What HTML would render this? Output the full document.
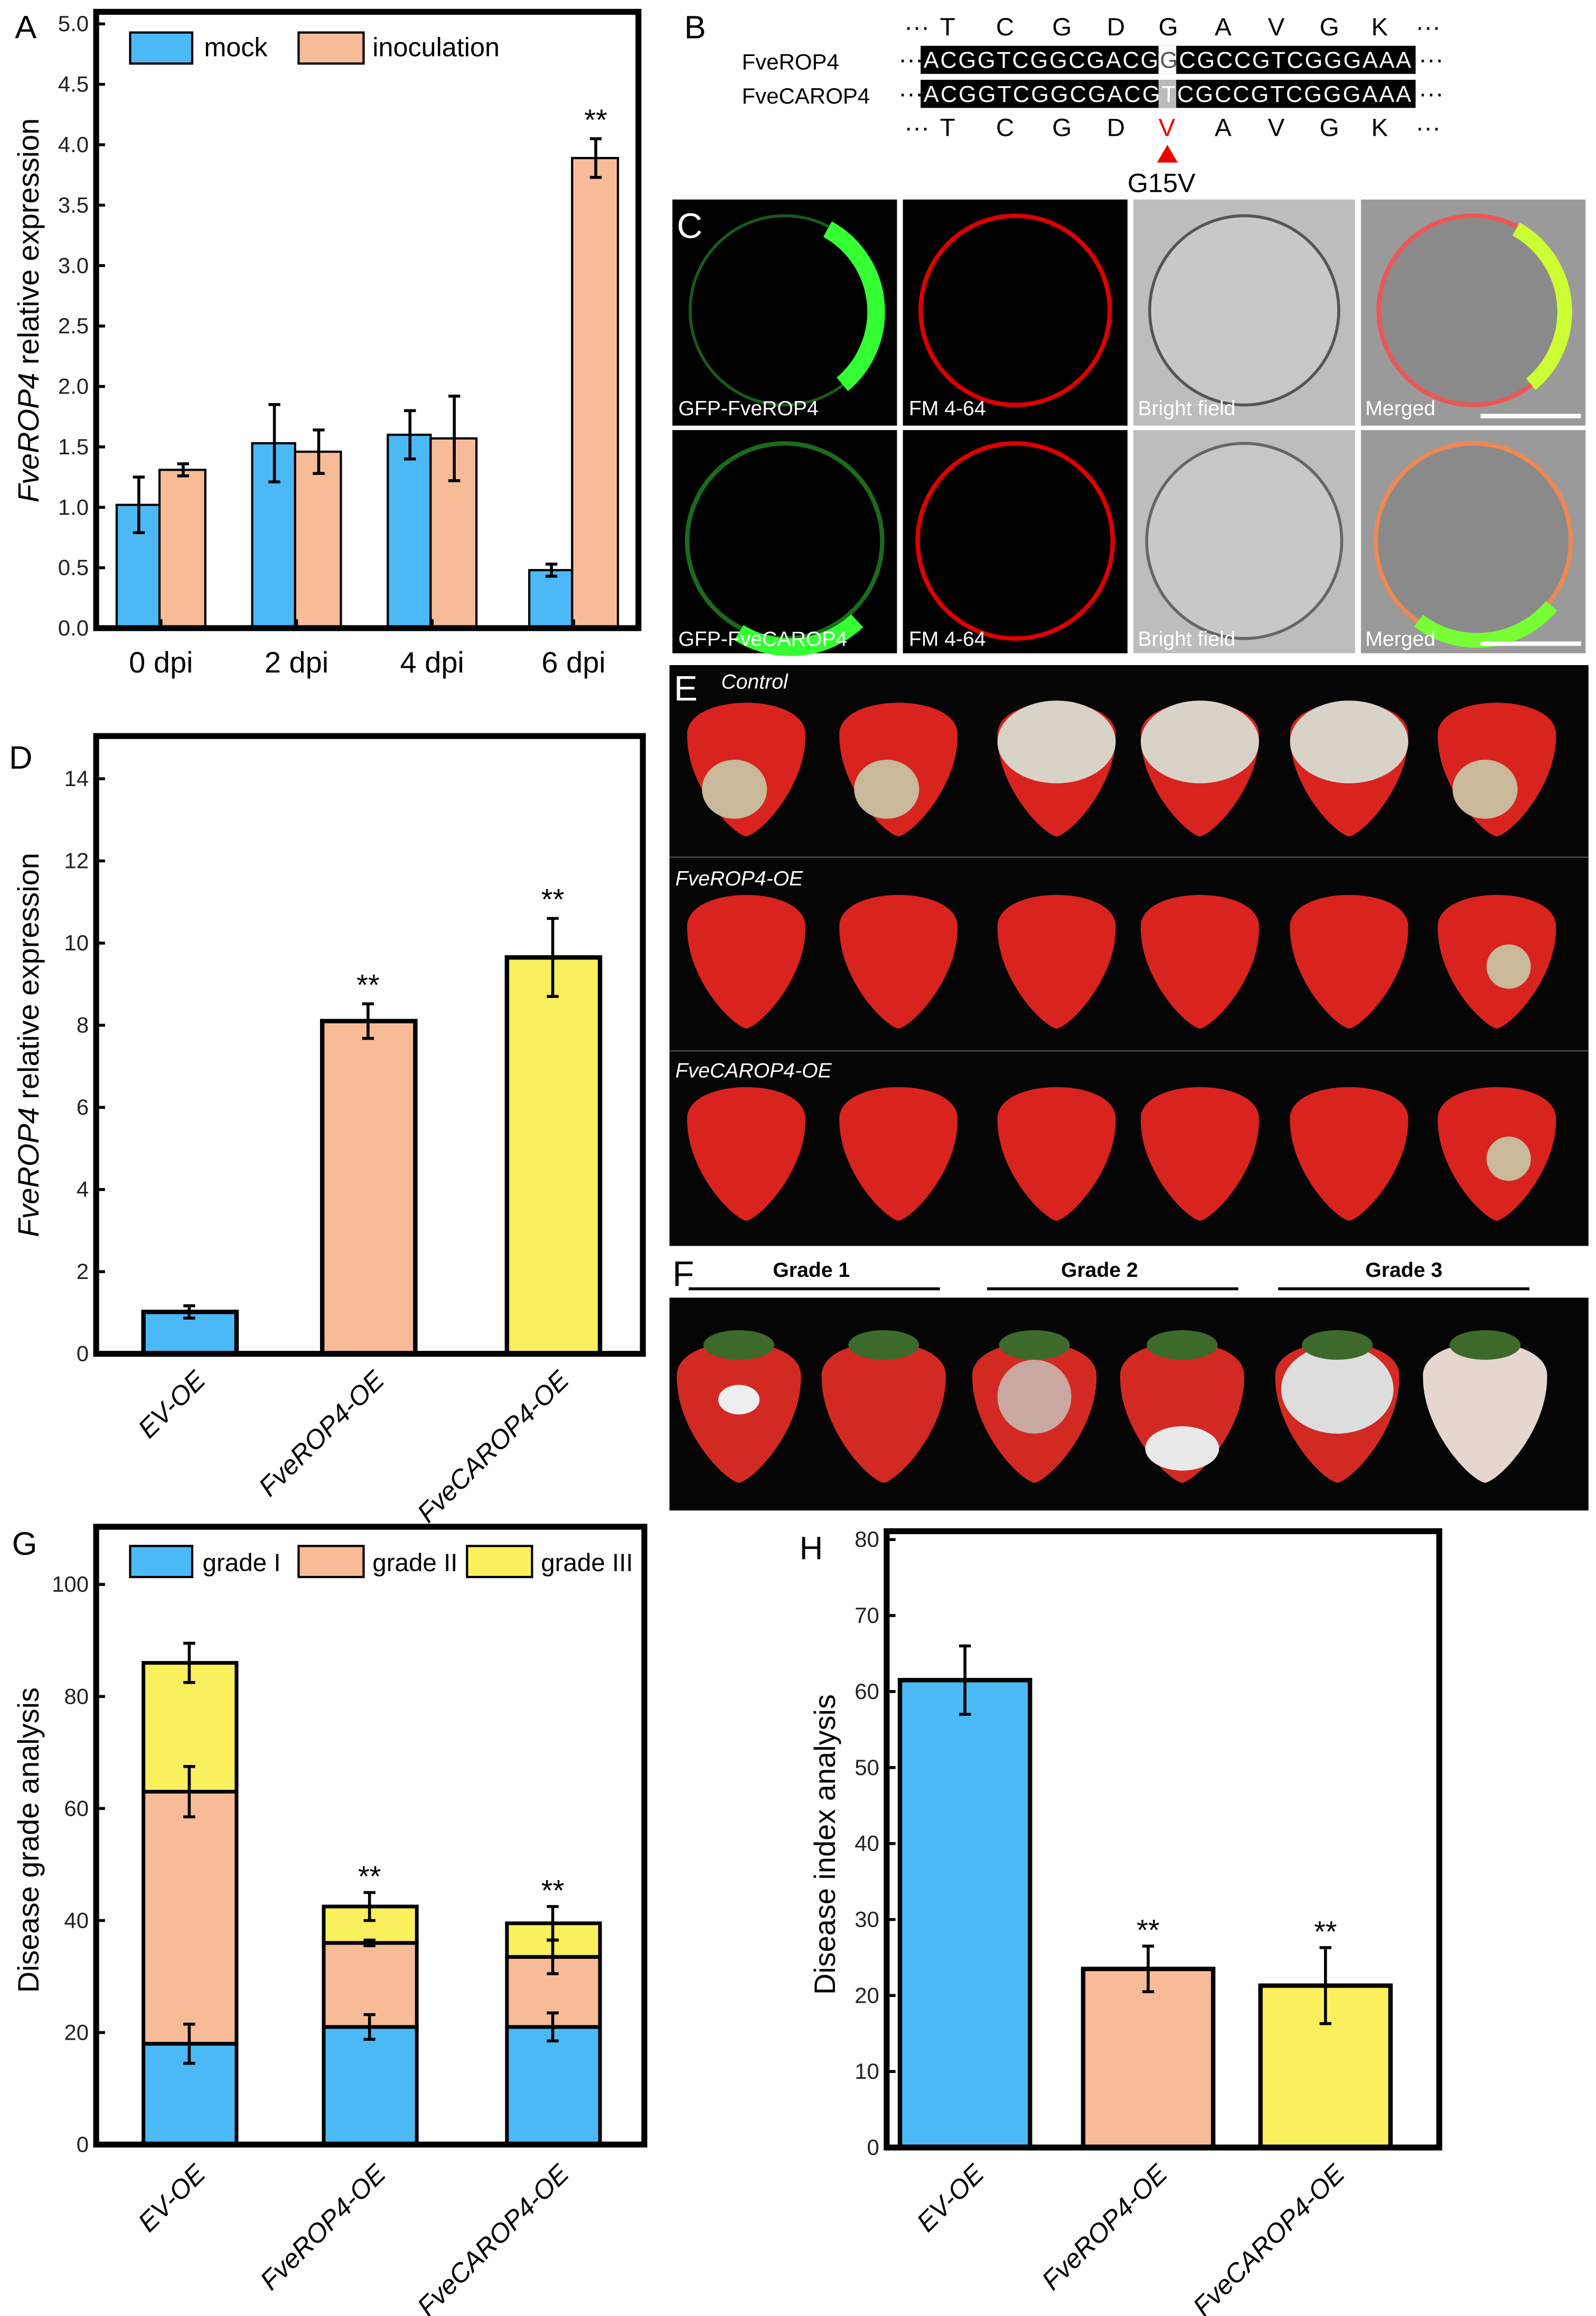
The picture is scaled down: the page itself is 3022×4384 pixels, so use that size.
<!DOCTYPE html>
<html><head><meta charset="utf-8"><style>
html,body{margin:0;padding:0;background:#fff}
svg{display:block}
text{font-family:"Liberation Sans",Arial,sans-serif}
</style></head><body>
<svg id="fig" width="3022" height="4384" viewBox="0 0 1080 1567" xmlns="http://www.w3.org/2000/svg">
<rect width="1080" height="1567" fill="#fff"/>
<!-- Panel B -->
<g font-size="17">
<text x="463" y="26" font-size="22">B</text>
<text x="612" y="24" font-size="17">···</text>
<text x="636" y="24">T</text><text x="674" y="24">C</text><text x="712" y="24">G</text><text x="749" y="24">D</text><text x="784" y="24">G</text><text x="822" y="24">A</text><text x="858" y="24">V</text><text x="893" y="24">G</text><text x="928" y="24">K</text><text x="958" y="24">···</text>
<text x="502" y="47" font-size="15">FveROP4</text>
<text x="502" y="70" font-size="15">FveCAROP4</text>
<rect x="623" y="31" width="335" height="19" fill="#000"/>
<rect x="623" y="54" width="335" height="19" fill="#000"/>
<rect x="784" y="31" width="12" height="19" fill="#fff"/>
<rect x="784" y="54" width="12" height="19" fill="#bbb"/>
<text x="625" y="46" fill="#fff" font-family="Liberation Mono" font-size="15.5" textLength="330">ACGGTCGGCGACGGCGCCGTCGGGAAA</text>
<text x="625" y="69" fill="#fff" font-family="Liberation Mono" font-size="15.5" textLength="330">ACGGTCGGCGACGTCGCCGTCGGGAAA</text>
<text x="785" y="46" fill="#555" font-family="Liberation Mono" font-size="15.5">G</text>
<text x="608" y="46">···</text><text x="608" y="69">···</text><text x="960" y="46">···</text><text x="960" y="69">···</text>
<text x="612" y="92">···</text>
<text x="636" y="92">T</text><text x="674" y="92">C</text><text x="712" y="92">G</text><text x="749" y="92">D</text><text x="784" y="92" fill="#e00">V</text><text x="822" y="92">A</text><text x="858" y="92">V</text><text x="893" y="92">G</text><text x="928" y="92">K</text><text x="958" y="92">···</text>
<polygon points="783,110 797,110 790,98" fill="#e00"/>
<text x="763" y="130" font-size="18">G15V</text>
</g>
<!-- Panel C -->
<g>
<rect x="455" y="135" width="152" height="153" fill="#000"/><rect x="611" y="135" width="152" height="153" fill="#000"/><rect x="767" y="135" width="150" height="153" fill="#bdbdbd"/><rect x="921" y="135" width="152" height="153" fill="#9a9a9a"/>
<rect x="455" y="291" width="152" height="151" fill="#000"/><rect x="611" y="291" width="152" height="151" fill="#000"/><rect x="767" y="291" width="150" height="151" fill="#bdbdbd"/><rect x="921" y="291" width="152" height="151" fill="#9a9a9a"/>
<circle cx="531" cy="210" r="64" fill="none" stroke="#1a5a1a" stroke-width="2"/><path d="M560,155 A64,64 0 0 1 570,260" stroke="#3f3" stroke-width="12" fill="none"/>
<circle cx="687" cy="210" r="64" fill="none" stroke="#d00" stroke-width="3"/>
<circle cx="842" cy="210" r="64" fill="#c8c8c8" stroke="#555" stroke-width="2"/>
<circle cx="997" cy="210" r="64" fill="#8a8a8a" stroke="#e55" stroke-width="3"/><path d="M1026,155 A64,64 0 0 1 1036,260" stroke="#cf3" stroke-width="10" fill="none"/>
<circle cx="531" cy="366" r="66" fill="none" stroke="#1c6a1c" stroke-width="3"/><path d="M500,428 A66,66 0 0 0 580,420" stroke="#3f3" stroke-width="12" fill="none"/>
<circle cx="687" cy="366" r="66" fill="none" stroke="#d00" stroke-width="3"/>
<circle cx="842" cy="366" r="66" fill="#c8c8c8" stroke="#666" stroke-width="2"/>
<circle cx="997" cy="366" r="66" fill="#8a8a8a" stroke="#e85" stroke-width="3"/><path d="M960,420 A66,66 0 0 0 1050,410" stroke="#7f3" stroke-width="10" fill="none"/>
<text x="458" y="161" font-size="24" fill="#fff">C</text>
<g font-size="14" fill="#fff"><text x="459" y="281">GFP-FveROP4</text><text x="615" y="281">FM 4-64</text><text x="770" y="281">Bright field</text><text x="924" y="281">Merged</text>
<text x="459" y="437">GFP-FveCAROP4</text><text x="615" y="437">FM 4-64</text><text x="770" y="437">Bright field</text><text x="924" y="437">Merged</text></g>
<rect x="1002" y="280" width="68" height="3" fill="#fff"/><rect x="1002" y="434" width="68" height="3" fill="#fff"/>
</g>
<!-- Panel E -->
<g>
<rect x="453" y="450" width="622" height="393" fill="#050505"/>
<line x1="453" y1="580" x2="1075" y2="580" stroke="#444"/><line x1="453" y1="711" x2="1075" y2="711" stroke="#444"/>
<text x="456" y="474" font-size="24" fill="#fff">E</text>
<g font-size="14" fill="#fff" font-style="italic"><text x="488" y="466">Control</text><text x="457" y="599">FveROP4-OE</text><text x="457" y="729">FveCAROP4-OE</text></g>
<g id="fruitsE"></g>
</g>
<!-- Panel F -->
<g>
<text x="455" y="870" font-size="24">F</text>
<g font-size="14" font-weight="bold"><text x="523" y="864">Grade 1</text><text x="718" y="864">Grade 2</text><text x="924" y="864">Grade 3</text></g>
<rect x="466" y="871" width="170" height="2" fill="#000"/><rect x="668" y="871" width="170" height="2" fill="#000"/><rect x="865" y="871" width="170" height="2" fill="#000"/>
<rect x="453" y="878" width="622" height="144" fill="#050505"/>
<g id="fruitsF"></g>
</g>
<g id="charts"></g>
</svg>
<script>
// ---------- data ----------
const aCategories = ["0 dpi","2 dpi","4 dpi","6 dpi"];
const aMock = [1.02,1.53,1.60,0.48];
const aMockErr = [0.23,0.32,0.20,0.05];
const aInoc = [1.31,1.46,1.57,3.89];
const aInocErr = [0.05,0.18,0.35,0.16];
const aTicks = ["0.0","0.5","1.0","1.5","2.0","2.5","3.0","3.5","4.0","4.5","5.0"];
const dCategories = ["EV-OE","FveROP4-OE","FveCAROP4-OE"];
const dValues = [1.02,8.10,9.65];
const dErr = [0.15,0.42,0.95];
const dTicks = [0,2,4,6,8,10,12,14];
const gGrade1 = [18,21,21];
const gGrade2 = [45,15,12.5];
const gGrade3 = [23,6.5,6];
const gErr1 = [3.5,2.2,2.5];
const gErr2 = [4.5,0.5,3];
const gErr3 = [3.5,2.5,3];
const gTicks = [0,20,40,60,80,100];
const hValues = [61.5,23.5,21.3];
const hErr = [4.5,3,5];
const hTicks = [0,10,20,30,40,50,60,70,80];
const BLUE="#4cb9f7", SAL="#f7bc97", YEL="#faef5c";

const NS="http://www.w3.org/2000/svg";
const root=document.getElementById('charts');
function mk(tag,attrs,parent){const e=document.createElementNS(NS,tag);for(const k in attrs)e.setAttribute(k,attrs[k]);(parent||root).appendChild(e);return e;}
function txt(s,attrs,parent){const e=mk('text',attrs,parent);e.textContent=s;return e;}
function errBar(g,x,y0,y1){
  mk('line',{x1:x,y1:y0,x2:x,y2:y1,stroke:'#000','stroke-width':2},g);
  mk('line',{x1:x-4,y1:y0,x2:x+4,y2:y0,stroke:'#000','stroke-width':2},g);
  mk('line',{x1:x-4,y1:y1,x2:x+4,y2:y1,stroke:'#000','stroke-width':2},g);
}
function axisY(g,x0,yScale,ticks,labels,fs){
  ticks.forEach((t,i)=>{const y=yScale(t);
    mk('line',{x1:x0,y1:y,x2:x0+6,y2:y,stroke:'#000','stroke-width':2},g);
    const l=txt(labels[i],{x:x0-5,y:y+5,'font-size':fs,'text-anchor':'end',fill:'#222'},g);
    
    
  });
}

// ---------- Panel A ----------
(function(){
  const g=mk('g',{});
  
  
  const L=65,R=432,T=8,B=425, ymax=5.1;
  const y=v=>B-v/ymax*(B-T);
  const step=(R-L)/4, x0=L+step/2-4;
  aCategories.forEach((c,i)=>{
    const cx=x0+i*step+ (i==3?4:0);
    const b1=mk('rect',{x:cx-28,y:y(aMock[i]),width:29,height:B-y(aMock[i]),fill:BLUE,stroke:'#000','stroke-width':1.5},g);
    
    
    const b2=mk('rect',{x:cx+1,y:y(aInoc[i]),width:31,height:B-y(aInoc[i]),fill:SAL,stroke:'#000','stroke-width':1.5},g);
    
    
    errBar(g,cx-13,y(aMock[i]+aMockErr[i]),y(aMock[i]-aMockErr[i]));
    errBar(g,cx+17,y(aInoc[i]+aInocErr[i]),y(aInoc[i]-aInocErr[i]));
    const l=txt(c,{x:cx+2,y:455,'font-size':20,'text-anchor':'middle'},g);
    
    
    mk('line',{x1:cx+2,y1:B,x2:cx+2,y2:B-6,stroke:'#000','stroke-width':2},g);
  });
  txt('**',{x:x0+3*step+21,y:y(aInoc[3]+aInocErr[3])-6,'font-size':20,'text-anchor':'middle'},g);
  axisY(g,L,y,aTicks.map(Number),aTicks,15);
  mk('rect',{x:L,y:T,width:R-L,height:B-T,fill:'none',stroke:'#000','stroke-width':4},g);
  mk('rect',{x:88,y:22,width:42,height:21,fill:BLUE,stroke:'#000','stroke-width':1.5},g);
  txt('mock',{x:138,y:38,'font-size':18},g);
  mk('rect',{x:202,y:22,width:44,height:21,fill:SAL,stroke:'#000','stroke-width':1.5},g);
  txt('inoculation',{x:252,y:38,'font-size':18},g);
  txt('A',{x:10,y:26,'font-size':22},g);
  const t=txt('',{transform:'translate(26,210) rotate(-90)','font-size':20,'text-anchor':'middle'},g);
  t.innerHTML='<tspan font-style="italic">FveROP4</tspan> relative expression';
  
  
})();

// ---------- Panel D ----------
(function(){
  const g=mk('g',{});
  
  
  const L=65,R=435,T=498,B=916, ymax=15.04;
  const y=v=>B-v/ymax*(B-T);
  const cxs=[128,249,374], cols=[BLUE,SAL,YEL];
  dCategories.forEach((c,i)=>{
    const b=mk('rect',{x:cxs[i]-31,y:y(dValues[i]),width:63,height:B-y(dValues[i]),fill:cols[i],stroke:'#000','stroke-width':3},g);
    
    
    errBar(g,cxs[i],y(dValues[i]+dErr[i]),y(dValues[i]-dErr[i]));
    if(i>0) txt('**',{x:cxs[i],y:y(dValues[i]+dErr[i])-6,'font-size':20,'text-anchor':'middle'},g);
    const l=txt(c,{transform:`translate(${cxs[i]+12},${935}) rotate(-45)`,'font-size':18,'font-style':'italic','text-anchor':'end'},g);
    
    
  });
  axisY(g,L,y,dTicks,dTicks.map(String),15);
  mk('rect',{x:L,y:T,width:R-L,height:B-T,fill:'none',stroke:'#000','stroke-width':4},g);
  txt('D',{x:6,y:520,'font-size':22},g);
  const t=txt('',{transform:'translate(26,707) rotate(-90)','font-size':20,'text-anchor':'middle'},g);
  t.innerHTML='<tspan font-style="italic">FveROP4</tspan> relative expression';
})();

// ---------- Panel G ----------
(function(){
  const g=mk('g',{});
  
  
  const L=65,R=436,T=1033,B=1451, ymax=110.3;
  const y=v=>B-v/ymax*(B-T);
  const cxs=[128,250,374];
  dCategories.forEach((c,i)=>{
    const s1=gGrade1[i], s2=s1+gGrade2[i], s3=s2+gGrade3[i];
    const r1=mk('rect',{x:cxs[i]-31,y:y(s1),width:63,height:B-y(s1),fill:BLUE,stroke:'#000','stroke-width':2.5},g);
    
    
    const r2=mk('rect',{x:cxs[i]-31,y:y(s2),width:63,height:y(s1)-y(s2),fill:SAL,stroke:'#000','stroke-width':2.5},g);
    
    
    const r3=mk('rect',{x:cxs[i]-31,y:y(s3),width:63,height:y(s2)-y(s3),fill:YEL,stroke:'#000','stroke-width':2.5},g);
    
    
    errBar(g,cxs[i],y(s1+gErr1[i]),y(s1-gErr1[i]));
    errBar(g,cxs[i],y(s2+gErr2[i]),y(s2-gErr2[i]));
    errBar(g,cxs[i],y(s3+gErr3[i]),y(s3-gErr3[i]));
    if(i>0) txt('**',{x:cxs[i],y:y(s3+gErr3[i])-4,'font-size':20,'text-anchor':'middle'},g);
    const l=txt(c,{transform:`translate(${cxs[i]+12},1472) rotate(-45)`,'font-size':18,'font-style':'italic','text-anchor':'end'},g);
    
    
  });
  axisY(g,L,y,gTicks,gTicks.map(String),15);
  mk('rect',{x:L,y:T,width:R-L,height:B-T,fill:'none',stroke:'#000','stroke-width':4},g);
  mk('rect',{x:88,y:1046,width:42,height:21,fill:BLUE,stroke:'#000','stroke-width':1.5},g);
  txt('grade I',{x:137,y:1063,'font-size':17},g);
  mk('rect',{x:202,y:1046,width:44,height:21,fill:SAL,stroke:'#000','stroke-width':1.5},g);
  txt('grade II',{x:252,y:1063,'font-size':17},g);
  mk('rect',{x:316,y:1046,width:44,height:21,fill:YEL,stroke:'#000','stroke-width':1.5},g);
  txt('grade III',{x:366,y:1063,'font-size':17},g);
  txt('G',{x:8,y:1052,'font-size':22},g);
  txt('Disease grade analysis',{transform:'translate(26,1245) rotate(-90)','font-size':20,'text-anchor':'middle'},g);
})();

// ---------- Panel H ----------
(function(){
  const g=mk('g',{});
  
  
  const L=600,R=974,T=1036,B=1453, ymax=81.1;
  const y=v=>B-v/ymax*(B-T);
  const cxs=[653,777,897], cols=[BLUE,SAL,YEL];
  dCategories.forEach((c,i)=>{
    const b=mk('rect',{x:cxs[i]-44,y:y(hValues[i]),width:88,height:B-y(hValues[i]),fill:cols[i],stroke:'#000','stroke-width':3},g);
    
    
    errBar(g,cxs[i],y(hValues[i]+hErr[i]),y(hValues[i]-hErr[i]));
    if(i>0) txt('**',{x:cxs[i],y:y(hValues[i]+hErr[i])-4,'font-size':20,'text-anchor':'middle'},g);
    const l=txt(c,{transform:`translate(${cxs[i]+14},1472) rotate(-45)`,'font-size':18,'font-style':'italic','text-anchor':'end'},g);
    
    
  });
  axisY(g,L,y,hTicks,hTicks.map(String),15);
  mk('rect',{x:L,y:T,width:R-L,height:B-T,fill:'none',stroke:'#000','stroke-width':4},g);
  txt('H',{x:541,y:1055,'font-size':22},g);
  txt('Disease index analysis',{transform:'translate(565,1248) rotate(-90)','font-size':20,'text-anchor':'middle'},g);
})();

// ---------- fruit decorations ----------
(function(){
  const gE=document.getElementById('fruitsE'), gF=document.getElementById('fruitsF');
  function berry(cx,cy,s,fill,parent){
    return mk('path',{d:`M${cx-40*s},${cy-22*s} C${cx-42*s},${cy-52*s} ${cx+42*s},${cy-52*s} ${cx+40*s},${cy-22*s} C${cx+40*s},${cy+12*s} ${cx+10*s},${cy+44*s} ${cx},${cy+46*s} C${cx-10*s},${cy+44*s} ${cx-40*s},${cy+12*s} ${cx-40*s},${cy-22*s}Z`,fill:fill},parent);
  }
  const xs=[505,608,715,812,913,1013], ys=[520,650,780];
  const white=[[0.2,0.3,0.6,0.7,0.4,0.3],[0,0,0,0,0,0.15],[0,0,0,0,0,0.15]];
  ys.forEach((cy,r)=>xs.forEach((cx,c)=>{
    const f=berry(cx,cy,1,'#d8231f',gE);
    
    
    const w=white[r][c];
    if(w>0.35) mk('ellipse',{cx:cx,cy:cy-18,rx:40,ry:28,fill:'#d9d2c8'},gE);
    else if(w>0.18) mk('ellipse',{cx:cx-8,cy:cy+14,rx:22,ry:20,fill:'#c9b89a'},gE);
    else if(w>0) mk('circle',{cx:cx+8,cy:cy+4,r:15,fill:'#c9b89a'},gE);
  }));
  const fx=[500,598,700,800,905,1005];
  fx.forEach((cx,i)=>{
    const cy=955;
    const f=berry(cx,cy,1.05,i==5?'#e5d6cf':'#d22a22',gF);
    
    
    if(i==4) mk('ellipse',{cx:cx,cy:cy-15,rx:38,ry:30,fill:'#ddd'},gF);
    if(i==2) mk('ellipse',{cx:cx,cy:cy-10,rx:25,ry:25,fill:'#c8a8a0'},gF);
    if(i==3) mk('ellipse',{cx:cx,cy:cy+25,rx:25,ry:15,fill:'#e8e8e8'},gF);
    if(i==0) mk('ellipse',{cx:cx,cy:cy-8,rx:14,ry:10,fill:'#eee'},gF);
    mk('ellipse',{cx:cx,cy:cy-45,rx:24,ry:10,fill:'#3d6a2a'},gF);
  });
})();
</script>
</body></html>
